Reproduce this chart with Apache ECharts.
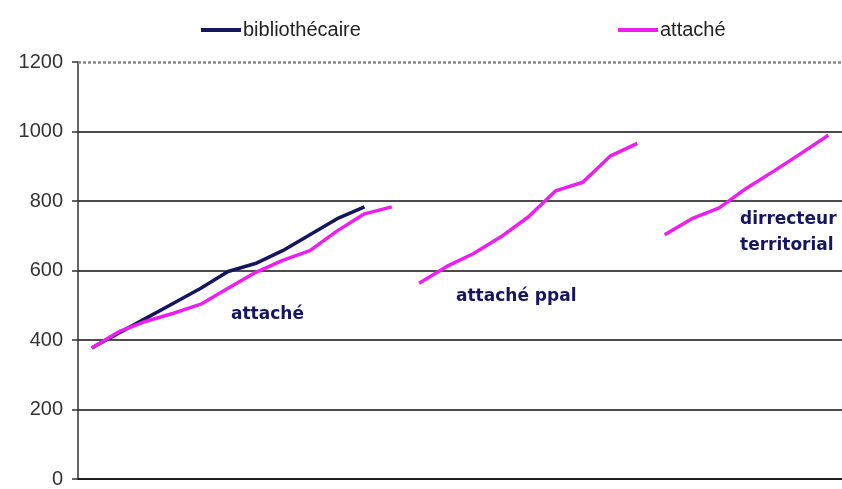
<!DOCTYPE html>
<html>
<head>
<meta charset="utf-8">
<script src="https://cdn.jsdelivr.net/npm/echarts@6/dist/echarts.min.js"></script>
<style>
  html, body { margin: 0; padding: 0; background: #fff; }
  #chart { width: 842px; height: 489px; }
</style>
</head>
<body>
<div id="chart"></div>
<script>
// Échelons (one category per step along the career)
const echelons = ['1','2','3','4','5','6','7','8','9','10','11','12','13','14',
                  '15','16','17','18','19','20','21','22','23','24','25','26','27','28'];

// Indice brut per échelon
const bibliothecaire = [377, 420, 463, 506, 549, 597, 620, 657, 703, 749, 783];
const attache        = [377, 424, 454, 477, 503, 549, 594, 629, 657, 714, 763, 783];
const attachePpal    = [563, 611, 649, 697, 754, 829, 854, 929, 966];
const directeurTerr  = [703, 749, 780, 837, 886, 937, 989];

// Where each grade starts on the échelon axis
const ppalStart = 12;
const dirStart = 21;

const yTicks = [0, 200, 400, 600, 800, 1000, 1200];

const NAVY = '#16165e';
const MAGENTA = '#ee1eee';

function placeAt(values, start) {
  const out = echelons.map(() => null);
  values.forEach((v, i) => { out[start + i] = v; });
  return out;
}

const lineSeries = (name, data, color) => ({
  name, type: 'line', data, symbol: 'none', smooth: false,
  connectNulls: false,
  lineStyle: { color, width: 3.5 },
  itemStyle: { color },
  emphasis: { disabled: true }
});

const chart = echarts.init(document.getElementById('chart'), null, { renderer: 'canvas' });

const labelStyle = {
  fill: NAVY,
  font: 'bold 17px "DejaVu Sans", Verdana, sans-serif'
};

const legendText = {
  fontFamily: '"Liberation Sans", Arial, sans-serif',
  fontSize: 20, color: '#222', padding: [0, 0, 0, -3]
};

chart.setOption({
  animation: false,
  backgroundColor: '#fff',
  grid: { left: 78, right: 0, top: 62, bottom: 7, containLabel: false },
  legend: [
    { data: ['bibliothécaire'], left: 196, top: 15, icon: 'rect',
      itemWidth: 40, itemHeight: 4, textStyle: legendText },
    { data: ['attaché'], left: 613, top: 15, icon: 'rect',
      itemWidth: 40, itemHeight: 4, textStyle: legendText }
  ],
  xAxis: {
    type: 'category', data: echelons, boundaryGap: true,
    axisLine: { show: true, lineStyle: { color: '#111', width: 1.5 } },
    axisTick: { show: false }, axisLabel: { show: false },
    splitLine: { show: false }
  },
  yAxis: {
    type: 'value', min: yTicks[0], max: yTicks[yTicks.length - 1], interval: 200,
    axisLine: { show: true, lineStyle: { color: '#333', width: 1.5 } },
    axisTick: { show: true, length: 6, lineStyle: { color: '#333', width: 1.5 } },
    axisLabel: {
      margin: 15, color: '#333',
      fontFamily: '"Liberation Sans", Arial, sans-serif', fontSize: 20,
      formatter: v => String(v)
    },
    splitLine: {
      show: true,
      lineStyle: {
        color: ['#111', '#111', '#111', '#111', '#111', '#111', 'rgba(0,0,0,0)'],
        width: 1.5
      }
    }
  },
  series: [
    lineSeries('bibliothécaire', placeAt(bibliothecaire, 0), NAVY),
    Object.assign(lineSeries('attaché', placeAt(attache, 0), MAGENTA), {
      markLine: {
        silent: true, symbol: 'none', label: { show: false },
        lineStyle: { color: '#888', type: [3, 2], width: 2.5 },
        data: [{ yAxis: yTicks[yTicks.length - 1] }]
      }
    }),
    lineSeries('attaché principal', placeAt(attachePpal, ppalStart), MAGENTA),
    lineSeries('directeur territorial', placeAt(directeurTerr, dirStart), MAGENTA)
  ],
  graphic: [
    { type: 'text', left: 231, top: 306, style: Object.assign({ text: 'attaché' }, labelStyle) },
    { type: 'text', left: 456, top: 288, style: Object.assign({ text: 'attaché ppal' }, labelStyle) },
    { type: 'text', left: 740, top: 207, style: Object.assign({ text: 'dirrecteur\nterritorial', lineHeight: 26 }, labelStyle) }
  ]
});
</script>
</body>
</html>
